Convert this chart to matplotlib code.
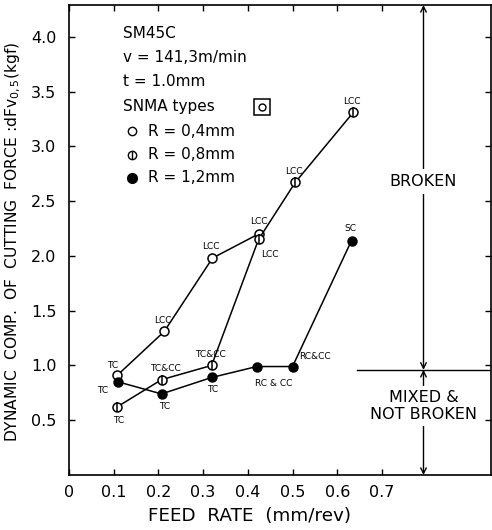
import numpy as np
import matplotlib.pyplot as plt

# feed rate (mm/rev) and dynamic cutting force component (kgf), per nose radius
feed_r04 = [0.108, 0.213, 0.321, 0.424]
force_r04 = [0.91, 1.31, 1.98, 2.20]
notes_r04 = ["TC", "LCC", "LCC", "LCC"]

feed_r08 = [0.107, 0.207, 0.319, 0.424, 0.506, 0.636]
force_r08 = [0.62, 0.87, 1.00, 2.15, 2.67, 3.31]
notes_r08 = ["TC", "TC&CC", "TC&CC", "LCC", "LCC", "LCC"]

feed_r12 = [0.110, 0.207, 0.319, 0.420, 0.500, 0.632]
force_r12 = [0.85, 0.74, 0.89, 0.99, 0.99, 2.14]
notes_r12 = ["TC", "TC", "TC", "RC & CC", "RC&CC", "SC"]

x_ticks = [0, 0.1, 0.2, 0.3, 0.4, 0.5, 0.6, 0.7]
y_ticks = [0.5, 1.0, 1.5, 2.0, 2.5, 3.0, 3.5, 4.0]
boundary = 0.96  # broken / not broken limit

# label offsets in points (dx, dy)
offs_r04 = [(-3, 7), (-1, 8), (-1, 8), (0, 9)]
offs_r08 = [(1, -10), (3, 8), (-1, 8), (8, -11), (-1, 8), (-1, 8)]
offs_r12 = [(-11, -6), (2, -9), (1, -9), (12, -12), (16, 7), (-1, 9)]

fig = plt.figure(figsize=(4.92, 5.30), dpi=100)
ax = fig.add_axes([69 / 492, 1 - 475 / 530, 422 / 492, 470 / 530])

lw = 1.1
ms = 6.5
ax.plot(feed_r04, force_r04, "-", color="k", lw=lw, marker="o", ms=ms,
        mfc="white", mec="k", mew=1.1, zorder=3)
ax.plot(feed_r08, force_r08, "-", color="k", lw=lw, marker="o", ms=ms,
        mfc="white", mec="k", mew=1.1, zorder=3)
ax.plot(feed_r08, force_r08, "none", marker="|", ms=ms, mec="k", mew=1.1, zorder=4)
ax.plot(feed_r12, force_r12, "-", color="k", lw=lw, marker="o", ms=ms,
        mfc="k", mec="k", zorder=3)

box = dict(boxstyle="square,pad=0.08", fc="white", ec="none")
for xs, ys, notes, offs in [(feed_r04, force_r04, notes_r04, offs_r04),
                            (feed_r08, force_r08, notes_r08, offs_r08),
                            (feed_r12, force_r12, notes_r12, offs_r12)]:
    for x, y, s, (dx, dy) in zip(xs, ys, notes, offs):
        ax.annotate(s, (x, y), xytext=(dx, dy), textcoords="offset points",
                    ha="center", va="center", fontsize=6.5, bbox=box, zorder=2)

# broken / not broken zones
ax.plot([0.645, 0.944], [boundary, boundary], color="k", lw=1.0, zorder=1)
xa = 0.793
arrow = dict(arrowstyle="<->", color="k", lw=1.0, shrinkA=0, shrinkB=0)
ax.annotate("", xy=(xa, 4.29), xytext=(xa, boundary), arrowprops=arrow, zorder=1)
ax.annotate("", xy=(xa, 0.0), xytext=(xa, boundary), arrowprops=arrow, zorder=1)
tbox = dict(boxstyle="square,pad=0.3", fc="white", ec="none")
ax.text(xa, 2.68, "BROKEN", ha="center", va="center", fontsize=11.5, bbox=tbox, zorder=2)
ax.text(xa, 0.63, "MIXED &\nNOT BROKEN", ha="center", va="center", fontsize=11.5,
        linespacing=1.1, bbox=tbox, zorder=2)

# condition block with legend
def fx(px):
    return (px - 69) / 422


def fy(py):
    return (475 - py) / 470


lines = ["SM45C", "v = 141,3m/min", "t = 1.0mm", "SNMA types"]
for i, s in enumerate(lines):
    ax.text(fx(123), fy(33 + 24.5 * i), s, transform=ax.transAxes,
            ha="left", va="center", fontsize=11)
ax.plot([fx(262)], [fy(107)], transform=ax.transAxes, marker="s", ms=11,
        mfc="white", mec="k", mew=1.1)
ax.plot([fx(262)], [fy(107)], transform=ax.transAxes, marker="o", ms=5,
        mfc="white", mec="k", mew=1.0)
legend_rows = [("R = 0,4mm", "white", False), ("R = 0,8mm", "white", True),
               ("R = 1,2mm", "k", False)]
for i, (s, fc, bar) in enumerate(legend_rows):
    yy = fy(131 + 23.5 * i)
    ax.plot([fx(132)], [yy], transform=ax.transAxes, marker="o",
            ms=6 if fc == "white" else 7, mfc=fc, mec="k", mew=1.0)
    if bar:
        ax.plot([fx(132)], [yy], transform=ax.transAxes, marker="|", ms=6,
                mec="k", mew=1.0)
    ax.text(fx(148), yy, s, transform=ax.transAxes, ha="left", va="center",
            fontsize=11)

ax.set_xlim(0, 0.944)
ax.set_ylim(0, 4.29)
ax.set_xticks(x_ticks)
ax.set_xticklabels(["0" if v == 0 else f"{v:.1f}" for v in x_ticks])
ax.set_yticks(y_ticks)
ax.set_yticklabels([f"{v:.1f}" for v in y_ticks])
ax.tick_params(direction="in", top=True, right=True, length=4, width=1,
               labelsize=11.5)
ax.tick_params(axis="x", pad=7)
ax.tick_params(axis="y", pad=9)
for sp in ax.spines.values():
    sp.set_linewidth(1.2)

ax.set_xlabel("FEED  RATE  (mm/rev)", fontsize=13.2)
ax.xaxis.set_label_coords(0.427, -0.068)
ax.set_ylabel("DYNAMIC  COMP.  OF  CUTTING  FORCE :dFv$_{0,5}$(kgf)", fontsize=11.2)
ax.yaxis.set_label_coords(-0.108, 0.495)

fig.savefig("out.png", dpi=100)
